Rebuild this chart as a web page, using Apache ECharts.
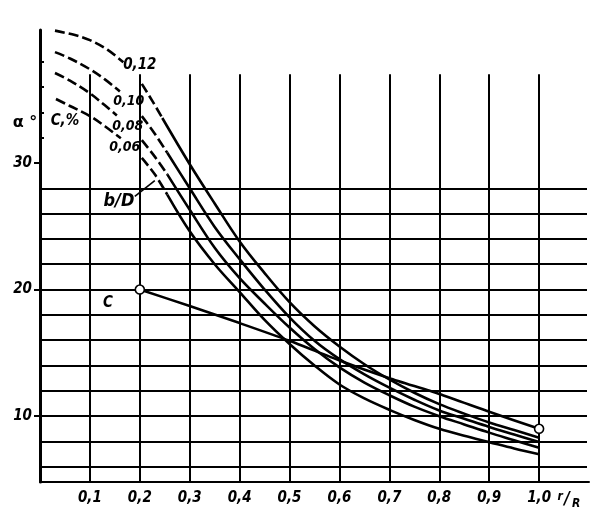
<!DOCTYPE html>
<html><head><meta charset="utf-8">
<script src="https://cdn.jsdelivr.net/npm/echarts@6/dist/echarts.min.js"></script>
<style>html,body{margin:0;padding:0;background:#fff}#c{width:600px;height:517px}</style>
</head><body><div id="c"></div>
<script>
// ---------- data ----------
const xTickValues = [0.1,0.2,0.3,0.4,0.5,0.6,0.7,0.8,0.9,1.0];
const yLabelValues = [10,20,30];
const yMinorTicks = [32,34,36,38];
const hGridValues = [6,8,10,12,14,16,18,20,22,24,26,28];
const vGridValues = [0.1,0.2,0.3,0.4,0.5,0.6,0.7,0.8,0.9,1.0];
const yBottom = 4.8, yTop = 40.5, xRight = 1.1;
const vGridTop = 37.0, hGridEnd = 1.096;

const cPercentLabels = ['0,12','0,10','0,08','0,06'];

// C = 0,12 %
const c012Dashed = [[0.03,40.45],[0.07,40.1],[0.10,39.7],[0.135,38.95],[0.167,37.95], null,
                    [0.204,36.25],[0.225,34.9],[0.245,33.55]];
const c012Solid  = [[0.245,33.55],[0.30,29.9],[0.35,26.8],[0.40,23.8],[0.45,21.3],[0.50,19.0],
                    [0.55,17.1],[0.60,15.5],[0.65,14.1],[0.70,12.9],[0.75,11.85],[0.80,10.95],
                    [0.85,10.2],[0.90,9.5],[0.95,8.9],[1.00,8.3]];
// C = 0,10 %
const c010Dashed = [[0.03,38.75],[0.06,38.25],[0.10,37.4],[0.13,36.6],[0.16,35.65], null,
                    [0.204,33.7],[0.23,32.3],[0.255,30.8]];
const c010Solid  = [[0.255,30.8],[0.30,28.0],[0.35,24.95],[0.40,22.4],[0.45,20.0],[0.50,17.8],
                    [0.55,15.95],[0.60,14.5],[0.65,13.3],[0.70,12.25],[0.75,11.3],[0.80,10.45],
                    [0.85,9.8],[0.90,9.15],[0.95,8.55],[1.00,7.95]];
// C = 0,08 %
const c008Dashed = [[0.03,37.1],[0.06,36.5],[0.10,35.5],[0.13,34.55],[0.154,33.75], null,
                    [0.204,31.8],[0.23,30.5],[0.255,29.1]];
const c008Solid  = [[0.255,29.1],[0.30,26.3],[0.35,23.3],[0.40,20.9],[0.45,18.9],[0.50,17.0],
                    [0.55,15.3],[0.60,13.85],[0.65,12.65],[0.70,11.65],[0.75,10.75],[0.80,10.0],
                    [0.85,9.35],[0.90,8.7],[0.95,8.1],[1.00,7.5]];
// C = 0,06 %
const c006Dashed = [[0.032,35.05],[0.06,34.5],[0.10,33.7],[0.13,32.9],[0.162,31.95], null,
                    [0.204,30.4],[0.23,29.1],[0.255,27.5]];
const c006Solid  = [[0.255,27.5],[0.30,24.6],[0.35,22.0],[0.40,19.8],[0.45,17.6],[0.50,15.7],
                    [0.55,14.0],[0.60,12.5],[0.65,11.4],[0.70,10.5],[0.75,9.7],[0.80,9.0],
                    [0.85,8.45],[0.90,7.95],[0.95,7.45],[1.00,7.0]];
// C line
const cLine = [[0.2,20.0],[0.3,18.7],[0.4,17.35],[0.5,15.95],[0.6,14.4],[0.7,13.0],
               [0.8,11.75],[0.9,10.35],[1.0,9.0]];

// ---------- chart ----------
const FONT = "'Liberation Sans Narrow','DejaVu Sans Condensed','Liberation Sans',sans-serif";
const chart = echarts.init(document.getElementById('c'), null, {renderer:'canvas'});

function splitSegments(arr){
  const out=[[]];
  arr.forEach(p=>{ if(p===null) out.push([]); else out[out.length-1].push(p); });
  return out.filter(s=>s.length>1);
}
const curves = [
  {dashed:c012Dashed, solid:c012Solid},
  {dashed:c010Dashed, solid:c010Solid},
  {dashed:c008Dashed, solid:c008Solid},
  {dashed:c006Dashed, solid:c006Solid}
];

const gridLines = [];
hGridValues.forEach(v=>gridLines.push([{coord:[0,v]},{coord:[hGridEnd,v]}]));
vGridValues.forEach(v=>gridLines.push([{coord:[v,yBottom]},{coord:[v,vGridTop]}]));

const series = [{
  type:'line', data:[], z:1, silent:true,
  markLine:{
    silent:true, z:1, symbol:['none','none'], animation:false,
    label:{show:false},
    lineStyle:{color:'#000', width:2, type:'solid', opacity:1},
    emphasis:{disabled:true},
    data:gridLines
  }
}];
curves.forEach(c=>{
  splitSegments(c.dashed).forEach(seg=>series.push({
    type:'line', data:seg, smooth:0.35, symbol:'none', silent:true, z:3,
    lineStyle:{color:'#000', width:2.6, type:[10,4]}
  }));
  series.push({
    type:'line', data:c.solid, smooth:0.35, symbol:'none', silent:true, z:3,
    lineStyle:{color:'#000', width:2.6}
  });
});
series.push({
  type:'line', data:cLine, smooth:0.2, symbol:'none', silent:true, z:3,
  lineStyle:{color:'#000', width:2.6}
});
series.push({
  type:'scatter', data:[cLine[0], cLine[cLine.length-1]], symbol:'circle', symbolSize:9,
  silent:true, z:10,
  itemStyle:{color:'#fff', borderColor:'#000', borderWidth:1.6, opacity:1}
});

chart.setOption({
  animation:false,
  backgroundColor:'#fff',
  grid:{left:40, right:11, top:30, bottom:35, containLabel:false},
  xAxis:{
    type:'value', min:0, max:xRight, interval:0.1,
    axisLine:{lineStyle:{color:'#000', width:2}},
    axisTick:{show:false},
    splitLine:{show:false},
    axisLabel:{
      margin:9, color:'#000', fontSize:15, fontStyle:'italic', fontWeight:'bold', fontFamily:FONT,
      formatter:v=>(v<0.05||v>1.05)?'':v.toFixed(1).replace('.',',')
    }
  },
  yAxis:[{
    type:'value', min:yBottom, max:yTop,
    axisLine:{show:true, lineStyle:{color:'#000', width:3}},
    axisTick:{show:true, customValues:yLabelValues, length:6, lineStyle:{color:'#000', width:2}},
    splitLine:{show:false},
    axisLabel:{
      customValues:yLabelValues, margin:8, color:'#000', fontSize:15, fontStyle:'italic',
      fontWeight:'bold', fontFamily:FONT
    }
  },{
    type:'value', min:yBottom, max:yTop, position:'left',
    axisLine:{show:false},
    axisTick:{show:true, inside:true, customValues:yMinorTicks, length:4, lineStyle:{color:'#000', width:2}},
    splitLine:{show:false},
    axisLabel:{show:false}
  }],
  series:series
});

// ---------- annotations ----------
const P = (x,y)=>chart.convertToPixel({gridIndex:0},[x,y]);
function txt(pos, text, font){
  return {type:'text', x:pos[0], y:pos[1], silent:true, z:20,
    style:{text:text, fill:'#000', font:font, align:'center', verticalAlign:'middle'}};
}
const annotations = [
  {text:cPercentLabels[0], at:[0.200,37.76], size:15},
  {text:cPercentLabels[1], at:[0.178,34.84], size:14},
  {text:cPercentLabels[2], at:[0.176,32.9], size:14},
  {text:cPercentLabels[3], at:[0.170,31.2], size:14},
  {text:'C,%', at:[0.05,33.34], size:15},
  {text:'b/D', at:[0.158,27.0], size:18},
  {text:'C', at:[0.136,18.9], size:15}
];
const graphic = annotations.map(a=>txt(P(a.at[0],a.at[1]), a.text, `italic bold ${a.size}px ${FONT}`));
graphic.push(txt(P(-0.03,33.2), 'α °', "bold 16px 'DejaVu Sans',sans-serif"));
// leader line for b/D
const l1 = P(0.19,27.35), l2 = P(0.23,28.6);
graphic.push({type:'line', silent:true, z:20, shape:{x1:l1[0],y1:l1[1],x2:l2[0],y2:l2[1]},
  style:{stroke:'#000', lineWidth:1.6}});
// r/R axis title
const base = P(1.0, yBottom);
graphic.push(txt([base[0]+21, base[1]+15], 'r', `italic bold 12px ${FONT}`));
graphic.push(txt([base[0]+28, base[1]+18], '/', `italic bold 17px ${FONT}`));
graphic.push(txt([base[0]+37, base[1]+22], 'R', `italic bold 12px ${FONT}`));
chart.setOption({graphic:graphic});
</script>
</body></html>
